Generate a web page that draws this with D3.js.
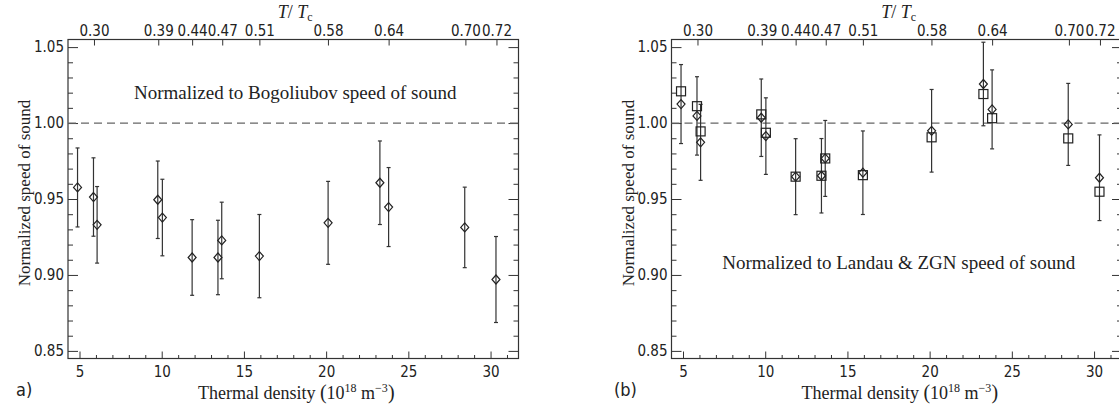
<!DOCTYPE html>
<html lang="en">
<head>
<meta charset="UTF-8">
<title>Normalized speed of sound</title>
<script src="https://d3js.org/d3.v7.min.js"></script>
<style>
    body { margin: 0; background: #fff; }
    .tick text { font-family: "DejaVu Sans Condensed", "DejaVu Sans", sans-serif; font-stretch: condensed; font-size: 15px; fill: #222; }
    .tick line { stroke: #333; }
    .serif { font-family: "Liberation Serif", "Times New Roman", serif; fill: #222; }
</style>
</head>
<body>
<div id="chart"></div>
<script>
// thermal density (10^18 m^-3) of each measurement
var density = [4.88, 5.85, 6.07, 9.76, 10.04, 11.85, 13.42, 13.65, 15.94, 20.12, 23.27, 23.80, 28.43, 30.33];

// panel a) normalized to Bogoliubov
var bogoliubov    = [0.9576, 0.9513, 0.9330, 0.9495, 0.9378, 0.9115, 0.9115, 0.9227, 0.9124, 0.9343, 0.9607, 0.9447, 0.9313, 0.8970];
var bogoliubovErr = [0.0260, 0.0258, 0.0252, 0.0255, 0.0252, 0.0249, 0.0245, 0.0252, 0.0274, 0.0273, 0.0275, 0.0260, 0.0265, 0.0283];

// panel (b) normalized to Landau (diamonds) & ZGN (squares)
var landau    = [1.0125, 1.0047, 0.9873, 1.0035, 0.9914, 0.9647, 0.9653, 0.9767, 0.9673, 0.9949, 1.0257, 1.0090, 0.9991, 0.9640];
var landauErr = [0.0260, 0.0258, 0.0250, 0.0255, 0.0252, 0.0250, 0.0245, 0.0250, 0.0275, 0.0272, 0.0275, 0.0260, 0.0270, 0.0282];
var zgn       = [1.0209, 1.0111, 0.9945, 1.0057, 0.9936, 0.9647, 0.9653, 0.9767, 0.9657, 0.9906, 1.0191, 1.0032, 0.9899, 0.9548];

// top axis: T/Tc
var ttcDensity = [5.88, 9.79, 11.85, 13.68, 15.94, 20.11, 23.80, 28.47, 30.36];
var ttcLabels  = ["0.30", "0.39", "0.44", "0.47", "0.51", "0.58", "0.64", "0.70", "0.72"];

var xTicks = [5, 10, 15, 20, 25, 30];
var yTicks = [0.85, 0.90, 0.95, 1.00, 1.05];

var W = 1119, H = 410;
var plotW = 450.5, plotTop = 39.5, plotBottom = 358.5;

var svg = d3.select("#chart").append("svg")
    .attr("width", W)
    .attr("height", H);

var x = d3.scaleLinear().domain([4.3, 31.7]).range([0, plotW]);
var y = d3.scaleLinear().domain([0.845, 1.055]).range([plotBottom - plotTop, 0]);
var ph = plotBottom - plotTop;

var xMinor = d3.range(5, 32, 1).filter(function(d) { return d % 5 !== 0; });
var yMinor = d3.range(85, 106, 1).filter(function(d) { return d % 5 !== 0; }).map(function(d) { return d / 100; });

function drawPanel(left, tag, text, textY, series) {
    var g = svg.append("g").attr("transform", "translate(" + left + "," + plotTop + ")");

    // axes, ticks inward
    g.append("g").attr("transform", "translate(0," + ph + ")")
        .call(d3.axisBottom(x).tickValues(xTicks).tickSize(-7).tickSizeOuter(0).tickPadding(8));
    g.append("g").attr("transform", "translate(0," + ph + ")")
        .call(d3.axisBottom(x).tickValues(xMinor).tickSize(-3.5).tickSizeOuter(0).tickFormat(""));
    g.append("g")
        .call(d3.axisTop(x).tickValues(ttcDensity).tickSize(-6).tickSizeOuter(0).tickPadding(4)
            .tickFormat(function(d, i) { return ttcLabels[i]; }));
    g.append("g")
        .call(d3.axisLeft(y).tickValues(yTicks).tickSize(-10).tickSizeOuter(0).tickPadding(4)
            .tickFormat(d3.format(".2f")));
    g.append("g")
        .call(d3.axisLeft(y).tickValues(yMinor).tickSize(-5).tickSizeOuter(0).tickFormat(""));
    g.append("g").attr("transform", "translate(" + plotW + ",0)")
        .call(d3.axisRight(y).tickValues(yTicks).tickSize(-10).tickSizeOuter(0).tickFormat(""));
    g.append("g").attr("transform", "translate(" + plotW + ",0)")
        .call(d3.axisRight(y).tickValues(yMinor).tickSize(-5).tickSizeOuter(0).tickFormat(""));
    g.selectAll(".domain").remove();

    g.append("rect")
        .attr("width", plotW).attr("height", ph)
        .attr("fill", "none").attr("stroke", "#333").attr("stroke-width", 1.2);

    // reference line at 1
    g.append("line")
        .attr("x1", 0).attr("x2", plotW)
        .attr("y1", y(1)).attr("y2", y(1))
        .attr("stroke", "#666").attr("stroke-width", 1.2)
        .attr("stroke-dasharray", "8,5");

    // error bars
    var bars = g.selectAll(".err").data(density).enter().append("g").attr("class", "err");
    bars.append("line")
        .attr("x1", function(d) { return x(d); }).attr("x2", function(d) { return x(d); })
        .attr("y1", function(d, i) { return y(series.vals[i] + series.err[i]); })
        .attr("y2", function(d, i) { return y(series.vals[i] - series.err[i]); })
        .attr("stroke", "#333").attr("stroke-width", 1.2);
    [1, -1].forEach(function(s) {
        bars.append("line")
            .attr("x1", function(d) { return x(d) - 2; }).attr("x2", function(d) { return x(d) + 2; })
            .attr("y1", function(d, i) { return y(series.vals[i] + s * series.err[i]); })
            .attr("y2", function(d, i) { return y(series.vals[i] + s * series.err[i]); })
            .attr("stroke", "#333").attr("stroke-width", 1.2);
    });

    // squares
    if (series.squares) {
        g.selectAll(".sq").data(density).enter().append("rect")
            .attr("x", function(d) { return x(d) - 4.5; })
            .attr("y", function(d, i) { return y(series.squares[i]) - 4.5; })
            .attr("width", 9).attr("height", 9)
            .attr("fill", "none").attr("stroke", "#222").attr("stroke-width", 1.2);
    }

    // diamonds
    g.selectAll(".dm").data(density).enter().append("path")
        .attr("transform", function(d, i) { return "translate(" + x(d) + "," + y(series.vals[i]) + ")"; })
        .attr("d", "M0,-4.5L4,0L0,4.5L-4,0Z")
        .attr("fill", "none").attr("stroke", "#222").attr("stroke-width", 1.2);

    // texts
    g.append("text").attr("class", "serif")
        .attr("x", plotW / 2 + 2).attr("y", textY)
        .attr("text-anchor", "middle").style("font-size", "19px")
        .text(text);

    var xt = g.append("text").attr("class", "serif")
        .attr("x", plotW / 2 + 3).attr("y", ph + 40)
        .attr("text-anchor", "middle").style("font-size", "18px");
    xt.append("tspan").text("Thermal density ");
    xt.append("tspan").style("font-size", "20px").text("(");
    xt.append("tspan").text("10");
    xt.append("tspan").attr("dy", -7).style("font-size", "12px").text("18");
    xt.append("tspan").attr("dy", 7).text(" m");
    xt.append("tspan").attr("dy", -7).style("font-size", "12px").text("\u22123");
    xt.append("tspan").attr("dy", 7).style("font-size", "20px").text(")");

    var tt = g.append("text").attr("class", "serif")
        .attr("x", plotW / 2 + 2).attr("y", -22)
        .attr("text-anchor", "middle").style("font-size", "18px");
    tt.append("tspan").style("font-style", "italic").text("T");
    tt.append("tspan").text("/ ");
    tt.append("tspan").style("font-style", "italic").text("T");
    tt.append("tspan").attr("dy", 3).style("font-size", "12px").text("c");

    g.append("text").attr("class", "serif")
        .attr("transform", "translate(-38," + (ph / 2 - 6) + ") rotate(-90)")
        .attr("text-anchor", "middle").style("font-size", "17px")
        .text("Normalized speed of sound");

    svg.append("text")
        .attr("x", tag.x).attr("y", 396)
        .style("font-family", "DejaVu Sans Condensed, DejaVu Sans, sans-serif")
        .style("font-size", "18px").style("fill", "#222")
        .text(tag.label);
}

drawPanel(68, {x: 16, label: "a)"}, "Normalized to Bogoliubov speed of sound", 59.5,
    {vals: bogoliubov, err: bogoliubovErr});
drawPanel(671.5, {x: 614, label: "(b)"}, "Normalized to Landau & ZGN speed of sound", 229.5,
    {vals: landau, err: landauErr, squares: zgn});
</script>
</body>
</html>
